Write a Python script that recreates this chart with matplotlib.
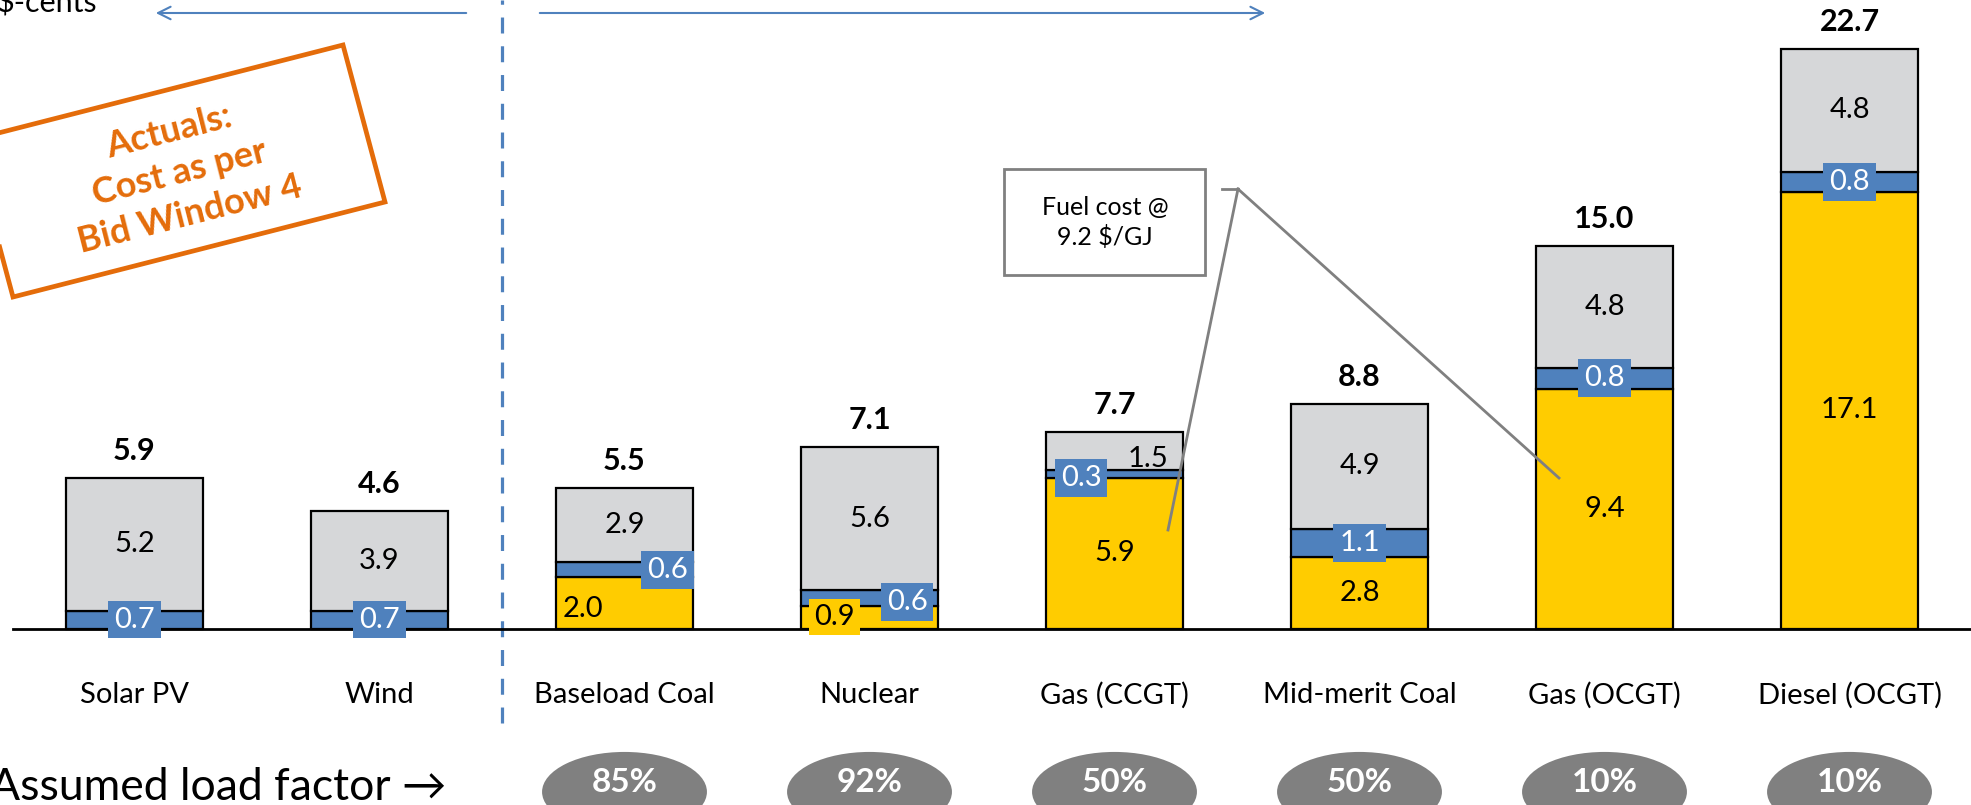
import matplotlib.pyplot as plt
import matplotlib.patches as mpatches
import numpy as np

plt.rcParams["font.family"] = ["Lato", "DejaVu Sans"]

categories = ["Solar PV", "Wind", "Baseload Coal", "Nuclear", "Gas (CCGT)",
              "Mid-merit Coal", "Gas (OCGT)", "Diesel (OCGT)"]
fuel = [0.0, 0.0, 2.0, 0.9, 5.9, 2.8, 9.4, 17.1]
om = [0.7, 0.7, 0.6, 0.6, 0.3, 1.1, 0.8, 0.8]
capital = [5.2, 3.9, 2.9, 5.6, 1.5, 4.9, 4.8, 4.8]
totals = [5.9, 4.6, 5.5, 7.1, 7.7, 8.8, 15.0, 22.7]
load_factors = ["", "", "85%", "92%", "50%", "50%", "10%", "10%"]

YELLOW = "#FFCC00"
BLUE = "#4F81BD"
GREY = "#D6D7D9"
ORANGE = "#E46C0A"
DARKGREY = "#808080"

W, H = 1971, 805
X0, DX = 134.5, 245.0      # pixel centre of first bar, spacing
BASE, DY = 628.5, 25.53    # baseline pixel (from top), pixels per unit


def px(x, y):
    # pixel position (from top-left) -> data coords
    return (x - X0) / DX, (BASE - y) / DY


fig = plt.figure(figsize=(W / 100, H / 100), dpi=100)
ax = fig.add_axes([0, 0, 1, 1])
ax.set_xlim(-X0 / DX, (W - X0) / DX)
ax.set_ylim(-(H - BASE) / DY, BASE / DY)
ax.axis("off")

x = np.arange(len(categories))
fuel = np.array(fuel)
om = np.array(om)
capital = np.array(capital)
bw = 0.56
kw = dict(width=bw, edgecolor="black", linewidth=1.6, zorder=2)
ax.bar(x, fuel, color=YELLOW, **kw)
ax.bar(x, om, bottom=fuel, color=BLUE, **kw)
ax.bar(x, capital, bottom=fuel + om, color=GREY, **kw)

# baseline
ax.plot([px(13, 0)[0], ax.get_xlim()[1]], [0, 0], color="black", lw=2, zorder=3)

fs = 21
fuel_shift = {2: (-0.17, -0.22), 3: (-0.143, 0.0)}
om_shift = {2: (0.175, 0.0), 3: (0.154, -0.16), 4: (-0.136, -0.15)}
cap_shift = {4: (0.136, -0.3)}

for i in x:
    if fuel[i] > 0:
        dx, dy = fuel_shift.get(i, (0, 0))
        box = None
        if i == 3:
            box = dict(boxstyle="square,pad=0.18", fc=YELLOW, ec="none")
        ax.text(i + dx, fuel[i] / 2 + dy, f"{fuel[i]:.1f}", ha="center", va="center",
                fontsize=fs, color="black", bbox=box, zorder=5)
    dx, dy = om_shift.get(i, (0, 0))
    ax.text(i + dx, fuel[i] + om[i] / 2 + dy, f"{om[i]:.1f}", ha="center", va="center",
            fontsize=fs, color="white", zorder=5,
            bbox=dict(boxstyle="square,pad=0.2", fc=BLUE, ec="none"))
    dx, dy = cap_shift.get(i, (0, 0))
    ax.text(i + dx, fuel[i] + om[i] + capital[i] / 2 + dy, f"{capital[i]:.1f}",
            ha="center", va="center", fontsize=fs, color="black", zorder=5)
    ax.text(i, totals[i] + 1.05, f"{totals[i]:.1f}", ha="center", va="center",
            fontsize=22, fontweight="bold", color="black", zorder=5)
    ax.text(i, -2.6, categories[i], ha="center", va="center", fontsize=fs, color="black")
    if load_factors[i]:
        ax.add_patch(mpatches.Ellipse((i, -6.4), 0.673, 3.13, fc=DARKGREY, ec="none"))
        ax.text(i, -6.05, load_factors[i], ha="center", va="center", fontsize=24,
                fontweight="bold", color="white")

ax.text(*px(446, 800), "Assumed load factor \u2192", ha="right", va="baseline",
        fontsize=32, color="black")

# divider and arrows
ax.plot([1.5, 1.5], [px(0, 723)[1], ax.get_ylim()[1]], color=BLUE, lw=2.3,
        linestyle=(0, (5, 4)), zorder=1)
arrow = dict(arrowstyle="->,head_length=0.9,head_width=0.45", color=BLUE, lw=1.5)
ax.annotate("", xy=px(153, 13), xytext=px(469, 13), arrowprops=arrow)
ax.annotate("", xy=px(1268, 13), xytext=px(537, 13), arrowprops=arrow)
ax.text(*px(97, 12.5), "$-cents", ha="right", va="baseline", fontsize=22)

# orange rotated box
corners = [px(-29, 140), px(343, 45), px(385, 202), px(13, 297)]
ax.add_patch(mpatches.Polygon(corners, closed=True, fill=False, ec=ORANGE, lw=3.4))
ax.text(*px(179, 173), "Actuals:\nCost as per\nBid Window 4", ha="center", va="center",
        rotation=14.3, rotation_mode="anchor", fontsize=26, fontweight="bold",
        color=ORANGE, linespacing=1.35)

# fuel cost callout
(bx0, by0), (bx1, by1) = px(1004, 275), px(1205, 169)
ax.add_patch(mpatches.Rectangle((bx0, by0), bx1 - bx0, by1 - by0, fill=False,
                                ec=DARKGREY, lw=2))
ax.text(*px(1105, 222), "Fuel cost @\n9.2 $/GJ", ha="center", va="center",
        fontsize=18, linespacing=1.3)
pts = [px(1222, 189), px(1238, 189)]
ax.plot([pts[0][0], pts[1][0]], [pts[0][1], pts[1][1]], color=DARKGREY, lw=2)
for end in [px(1168, 530), px(1559, 478)]:
    ax.plot([pts[1][0], end[0]], [pts[1][1], end[1]], color=DARKGREY, lw=2, zorder=6)

fig.savefig("out.png", dpi=100)
